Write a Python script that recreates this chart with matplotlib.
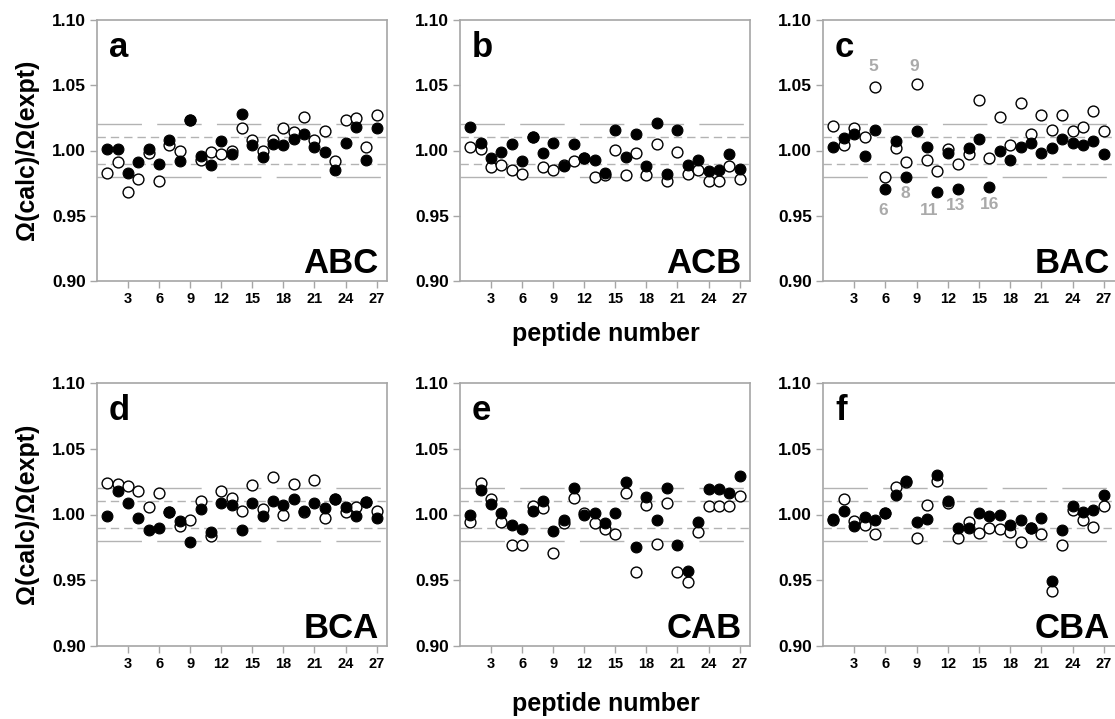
import matplotlib
matplotlib.use("Agg")
import matplotlib.pyplot as plt
import numpy as np

plt.rcParams['font.family'] = ['Liberation Sans', 'DejaVu Sans']
plt.rcParams['font.weight'] = 'bold'

peptides = list(range(1, 28))
xticks = [3, 6, 9, 12, 15, 18, 21, 24, 27]
yticks = [0.90, 0.95, 1.00, 1.05, 1.10]
ytick_labels = ["0.90", "0.95", "1.00", "1.05", "1.10"]

panel_letters = ["a", "b", "c", "d", "e", "f"]
panel_names = ["ABC", "ACB", "BAC", "BCA", "CAB", "CBA"]

filled_ABC = [1.001, 1.001, 0.983, 0.991, 1.001, 0.990, 1.008, 0.992, 1.023, 0.996, 0.989, 1.007, 0.997, 1.028,
              1.004, 0.995, 1.005, 1.004, 1.009, 1.013, 1.003, 0.999, 0.985, 1.006, 1.018, 0.993, 1.017]
open_ABC = [0.983, 0.991, 0.968, 0.978, 0.998, 0.977, 1.004, 1.000, 1.023, 0.993, 0.999, 0.997, 1.000, 1.017,
            1.008, 1.000, 1.008, 1.017, 1.014, 1.026, 1.008, 1.015, 0.992, 1.023, 1.025, 1.003, 1.027]

filled_ACB = [1.018, 1.006, 0.994, 0.999, 1.005, 0.992, 1.010, 0.998, 1.006, 0.9885, 1.005, 0.994, 0.993, 0.983,
              1.016, 0.995, 1.013, 0.988, 1.021, 0.982, 1.016, 0.989, 0.993, 0.984, 0.985, 0.997, 0.986]
open_ACB = [1.003, 1.001, 0.987, 0.989, 0.985, 0.982, 1.010, 0.987, 0.985, 0.989, 0.992, 0.994, 0.980, 0.981,
            1.0005, 0.981, 0.998, 0.981, 1.005, 0.977, 0.999, 0.982, 0.985, 0.977, 0.977, 0.9885, 0.978]

filled_BAC = [1.0026, 1.0095, 1.013, 0.9956, 1.016, 0.9705, 1.007, 0.980, 1.015, 1.003, 0.9685, 0.998, 0.9705,
              1.002, 1.0085, 0.972, 1.000, 0.993, 1.0026, 1.006, 0.998, 1.002, 1.009, 1.006, 1.004, 1.007, 0.9975]
open_BAC = [1.0185, 1.0044, 1.0175, 1.010, 1.0487, 0.980, 1.002, 0.9915, 1.051, 0.993, 0.9846, 1.001, 0.990,
            0.9975, 1.0385, 0.9944, 1.0256, 1.004, 1.0367, 1.0123, 1.027, 1.016, 1.0274, 1.015, 1.018, 1.030, 1.015]

filled_BCA = [0.999, 1.018, 1.009, 0.997, 0.988, 0.990, 1.002, 0.995, 0.979, 1.004, 0.987, 1.009, 1.007, 0.988,
              1.009, 0.999, 1.010, 1.007, 1.0115, 1.0025, 1.0087, 1.005, 1.0115, 1.0056, 0.9987, 1.0094, 0.997]
open_BCA = [1.024, 1.023, 1.022, 1.018, 1.0056, 1.0163, 1.002, 0.9916, 0.996, 1.010, 0.9834, 1.018, 1.0125,
            1.0023, 1.0227, 1.0043, 1.0286, 1.000, 1.0235, 1.0018, 1.026, 0.9975, 1.0115, 1.0018, 1.0056, 1.0094,
            1.003]

filled_CAB = [0.9995, 1.0187, 1.0077, 1.0013, 0.9918, 0.989, 1.0026, 1.010, 0.9877, 0.9956, 1.0205, 0.9995,
              1.0008, 0.9936, 1.0008, 1.025, 0.9756, 1.0136, 0.996, 1.0205, 0.977, 0.957, 0.9944, 1.0195, 1.0195,
              1.0167, 1.0295]
open_CAB = [0.994, 1.0236, 1.0115, 0.9944, 0.977, 0.977, 1.0064, 1.005, 0.9705, 0.9936, 1.0128, 1.0013, 0.9936,
            0.989, 0.985, 1.016, 0.9564, 1.007, 0.9776, 1.009, 0.956, 0.9487, 0.9867, 1.0064, 1.0064, 1.0064, 1.014]

filled_CBA = [0.9962, 1.0025, 0.991, 0.998, 0.9957, 1.0008, 1.015, 1.0258, 0.9944, 0.9967, 1.0298, 1.0101, 0.990,
              0.990, 1.0013, 0.9987, 0.9995, 0.9919, 0.9957, 0.990, 0.997, 0.9495, 0.9879, 1.0063, 1.002, 1.0038,
              1.0146]
open_CBA = [0.9957, 1.0119, 0.995, 0.9919, 0.985, 1.001, 1.021, 1.025, 0.9818, 1.0076, 1.0258, 1.0088, 0.9823,
            0.9944, 0.986, 0.990, 0.989, 0.9869, 0.979, 0.990, 0.985, 0.9419, 0.9768, 1.0038, 0.9957, 0.9904, 1.0068]

filled_sets = [filled_ABC, filled_ACB, filled_BAC, filled_BCA, filled_CAB, filled_CBA]
open_sets = [open_ABC, open_ACB, open_BAC, open_BCA, open_CAB, open_CBA]

# outlier labels in panel c
c_labels = ["5", "9", "6", "8", "11", "13", "16"]
c_label_x = [4.8, 8.8, 5.8, 7.9, 10.2, 12.7, 16.0]
c_label_y = [1.064, 1.0646, 0.954, 0.9667, 0.954, 0.9577, 0.959]

W, H = 1115, 719
fig = plt.figure(figsize=(W / 100, H / 100), dpi=100)

col_px = [(97, 387), (460, 750), (823, 1120)]
col_xmax = [28, 28, 28.55]
row_px = [(20, 281), (383, 646)]

spine_col = '#a6a6a6'
line_col = '#b3b3b3'

for i in range(6):
    r, c = divmod(i, 3)
    l, rr = col_px[c]
    t, b = row_px[r]
    ax = fig.add_axes([l / W, 1 - b / H, (rr - l) / W, (b - t) / H])
    ax.set_xlim(0, col_xmax[c])
    ax.set_ylim(0.90, 1.10)
    for yv in (1.02, 0.98):
        ax.axhline(yv, color=line_col, lw=1.0, dashes=(32, 11), zorder=1)
    for yv in (1.01, 0.99):
        ax.axhline(yv, color=line_col, lw=1.0, dashes=(6, 3.6), zorder=1)
    ax.plot(peptides, open_sets[i], 'o', ms=7.8, mfc='white', mec='black', mew=1.0, zorder=3)
    ax.plot(peptides, filled_sets[i], 'o', ms=7.8, mfc='black', mec='black', mew=0.8, zorder=4)
    ax.set_xticks(xticks)
    ax.set_xticklabels([str(v) for v in xticks], fontsize=10.5, fontweight='bold')
    ax.set_yticks(yticks)
    ax.set_yticklabels(ytick_labels, fontsize=12.5, fontweight='bold')
    ax.tick_params(axis='both', direction='out', length=5, width=1.0, color=spine_col)
    ax.tick_params(axis='x', pad=3)
    ax.tick_params(axis='y', pad=3)
    for s in ax.spines.values():
        s.set_color(spine_col)
        s.set_linewidth(1.2)
    ax.text(0.04, 0.86, panel_letters[i], transform=ax.transAxes, fontsize=25,
            fontweight='bold', ha='left', va='baseline')
    ax.text(0.972 if c < 2 else 0.965, 0.03, panel_names[i], transform=ax.transAxes, fontsize=25,
            fontweight='bold', ha='right', va='baseline')
    if i == 2:
        for lab, lx, ly in zip(c_labels, c_label_x, c_label_y):
            ax.text(lx, ly, lab, color='#aaaaaa', fontsize=12.5, fontweight='bold',
                    ha='center', va='center')

for yc in (150 / H, 514 / H):
    fig.text(27 / W, 1 - yc, "Ω(calc)/Ω(expt)", rotation=90, fontsize=18,
             fontweight='bold', ha='center', va='center')
for yc in (334, 704):
    fig.text(606 / W, 1 - yc / H, "peptide number", fontsize=18,
             fontweight='bold', ha='center', va='center')

fig.savefig("out.png", dpi=100)
